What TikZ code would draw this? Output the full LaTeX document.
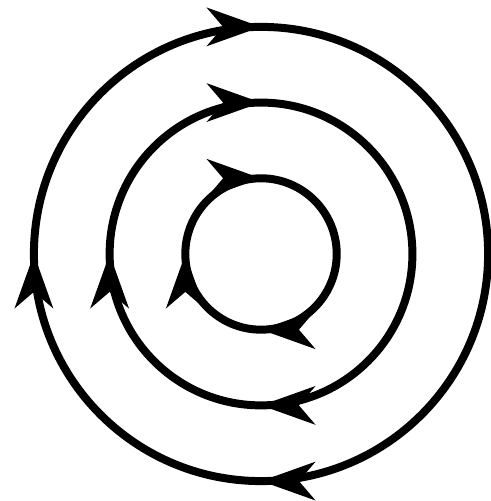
\documentclass[tikz,border=0pt]{standalone}
\usetikzlibrary{arrows.meta,decorations.markings}
\begin{document}
\begin{tikzpicture}[>={Stealth[length=7.1mm,width=5mm,inset=2.1mm]},
  flow/.style={line width=3pt, postaction={decorate}, decoration={markings,
    mark=at position 0.25 with {\arrow{>}},
    mark=at position 0.5 with {\arrow{>}},
    mark=at position 0.75 with {\arrow{>}}}}]
\useasboundingbox (-3.448,-3.263) rectangle (3.038,3.355);
\coordinate (o) at (0,0);
\foreach \r in {1,2,3}
  \draw[flow] (o) ++(\r,0) arc[start angle=0, end angle=-360, radius=\r];
\end{tikzpicture}
\end{document}
